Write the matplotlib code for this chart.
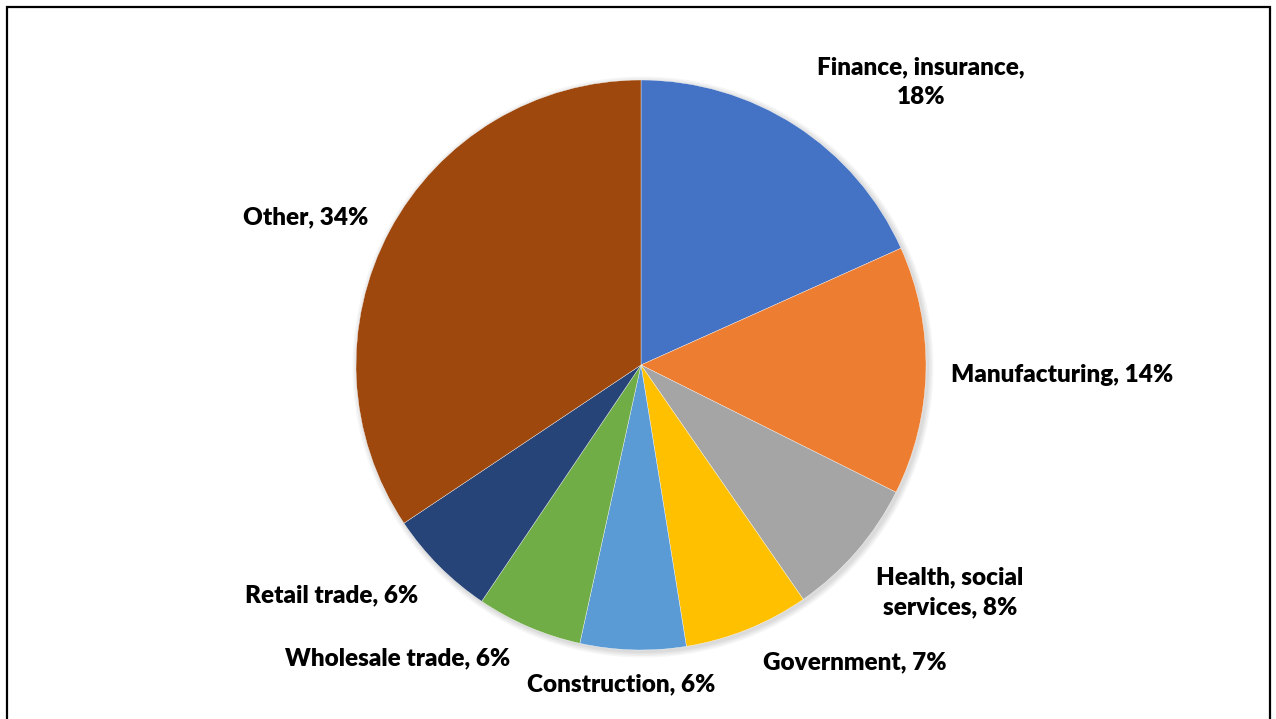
import matplotlib

matplotlib.use("Agg")
import matplotlib.pyplot as plt  # noqa: E402
from matplotlib.patches import Circle  # noqa: E402

# share of total (clockwise from 12 o'clock)
sectors = ["Finance, insurance", "Manufacturing", "Health, social services",
           "Government", "Construction", "Wholesale trade", "Retail trade", "Other"]
shares = [18.3, 14.1, 8.0, 7.1, 6.0, 6.0, 6.2, 34.4]
label_text = ["Finance, insurance,\n18%", "Manufacturing, 14%",
              "Health, social\nservices, 8%", "Government, 7%",
              "Construction, 6%", "Wholesale trade, 6%", "Retail trade, 6%",
              "Other, 34%"]
colors = ["#4472C4", "#ED7D31", "#A5A5A5", "#FFC000",
          "#5B9BD5", "#70AD47", "#264478", "#9E480E"]

# label centres in pixel space (y measured from top)
label_pos = [(921, 82), (1062, 375), (950, 592), (855, 662),
             (621, 684), (398, 658), (332, 595), (306, 217)]

W, H = 1276, 719
CX, CY, R = 641, 354, 285

fig = plt.figure(figsize=(W / 100, H / 100), dpi=100)
ax = fig.add_axes([0, 0, 1, 1])

# soft shadow under the pie
for i in range(4):
    ax.add_patch(Circle((CX + 2, CY - 2), R + 1 + 1.5 * i, color="black",
                        alpha=0.035, lw=0, zorder=0))

ax.pie(shares, colors=colors, startangle=90, counterclock=False,
       center=(CX, CY), radius=R, frame=True,
       wedgeprops=dict(edgecolor="white", linewidth=0.25))
ax.set_xlim(0, W)
ax.set_ylim(0, H)
ax.set_aspect("equal")
ax.axis("off")

for txt, (x, y) in zip(label_text, label_pos):
    ax.text(x, H - y, txt, ha="center", va="center", fontsize=17.5,
            fontweight="heavy", family=["Lato", "DejaVu Sans"], color="black",
            linespacing=1.45, multialignment="center")

# chart border (left, top, right)
ax.plot([7, 7, 1270, 1270], [0, H - 7, H - 7, 0], color="black", lw=1.6,
        solid_joinstyle="miter", clip_on=False)

fig.savefig("out.png", dpi=100)
